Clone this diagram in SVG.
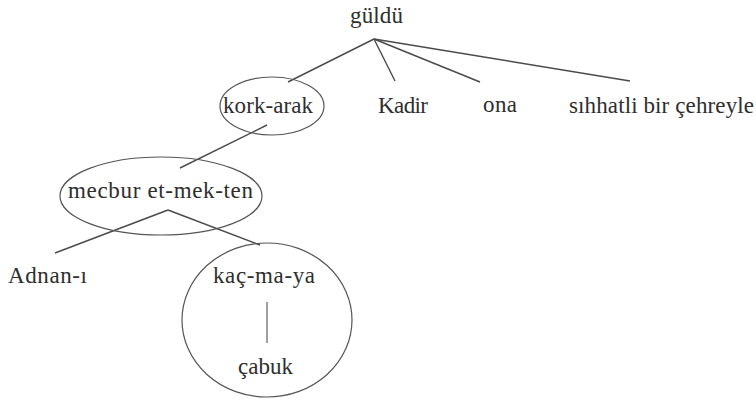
<svg xmlns="http://www.w3.org/2000/svg" width="756" height="401" viewBox="0 0 756 401">
<style>
.t{font-family:'Liberation Serif','Times New Roman',Times,Tinos,'Noto Serif','DejaVu Serif',FreeSerif,serif;font-size:23px;fill:#2e2e2e}
.e{fill:none;stroke:#555;stroke-width:1.2}
.c line{stroke:#4a4a4a;stroke-width:1.4}
</style>
<rect width="756" height="401" fill="#ffffff"/>
<g id="connectors" class="c">
<line x1="374" y1="39" x2="288" y2="82"/>
<line x1="374" y1="39" x2="395" y2="81"/>
<line x1="374" y1="39" x2="480" y2="82"/>
<line x1="374" y1="39" x2="630" y2="81"/>
<line x1="267" y1="125" x2="180" y2="168"/>
<line x1="168" y1="210" x2="55" y2="253"/>
<line x1="168" y1="210" x2="260" y2="245"/>
<line x1="267" y1="302" x2="267" y2="343" style="stroke:#888;stroke-width:1.6"/>
</g>
<g id="n-guldu"><text class="t" x="350" y="23" textLength="53">güldü</text></g>
<g id="n-korkarak"><ellipse class="e" cx="272" cy="106" rx="52" ry="29"/><text class="t" x="223" y="113" textLength="90">kork-arak</text></g>
<g id="n-kadir"><text class="t" x="378" y="113" textLength="50">Kadir</text></g>
<g id="n-ona"><text class="t" x="483" y="112" textLength="34">ona</text></g>
<g id="n-sihhatli"><text class="t" x="569" y="113" textLength="185">sıhhatli bir çehreyle</text></g>
<g id="n-mecbur"><ellipse class="e" cx="161" cy="196" rx="101" ry="39"/><text class="t" x="68" y="198" textLength="185">mecbur et-mek-ten</text></g>
<g id="n-adnan"><text class="t" x="8" y="283" textLength="79">Adnan-ı</text></g>
<g id="n-kacmaya"><ellipse class="e" cx="267" cy="320" rx="85" ry="77"/><text class="t" x="213" y="283" textLength="102">kaç-ma-ya</text></g>
<g id="n-cabuk"><text class="t" x="238" y="374" textLength="55">çabuk</text></g>
</svg>
